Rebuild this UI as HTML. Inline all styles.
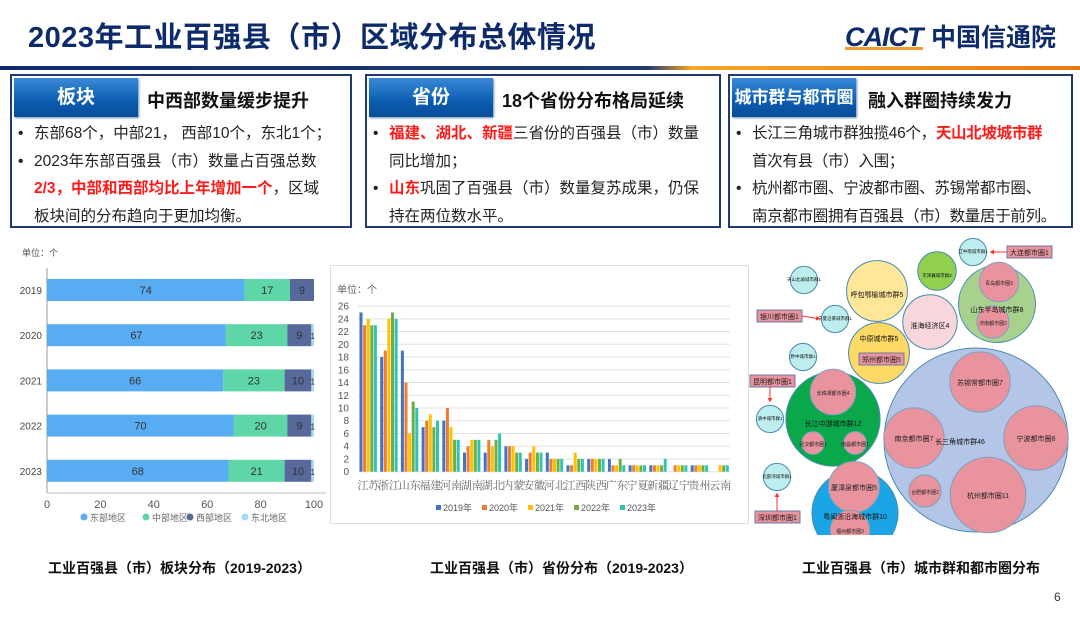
<!DOCTYPE html>
<html><head><meta charset="utf-8">
<style>
*{margin:0;padding:0;box-sizing:border-box}
body{width:1080px;height:622px;background:#fff;position:relative;overflow:hidden;font-family:"Liberation Sans","Noto Sans CJK SC",sans-serif;color:#222}
.abs{position:absolute}
.title{left:28px;top:14px;font-size:29px;font-weight:bold;color:#0d2b6b;letter-spacing:0.5px}
.panel{position:absolute;top:74px;height:154px;border:2px solid #1f3a70;background:#fff}
.tab{position:absolute;top:2px;left:2px;height:39px;color:#fff;font-weight:bold;font-size:19px;text-align:center;line-height:39px;background:linear-gradient(#3a8ad8,#0b5cb0 60%,#0a4d98);box-shadow:1px 1px 2px #6a8ab0}
.sub{position:absolute;top:11px;font-size:18px;font-weight:bold;color:#111}
.body{position:absolute;top:44px;left:3px;right:0;font-size:15.5px;line-height:27.5px;color:#222;white-space:nowrap}
.li{position:relative;padding-left:19px}
.li:before{content:"•";position:absolute;left:3px}
.red{color:#ff1a1a;font-weight:bold}
.cap{position:absolute;top:558px;font-size:14px;font-weight:bold;color:#111}
</style></head><body>
<div class="abs title">2023年工业百强县（市）区域分布总体情况</div>
<div class="abs" style="left:845px;top:18px;height:32px;">
 <span style="font-size:27px;font-weight:900;font-style:italic;color:#0d2b6b;letter-spacing:-1px">CAICT</span>
 <span style="font-size:25px;font-weight:bold;color:#0d2b6b;margin-left:4px">中国信通院</span>
 <div style="position:absolute;left:0;top:29px;width:78px;height:3px;background:#f29b30"></div>
</div>
<div class="abs" style="left:0;top:66px;width:1080px;height:4px;background:linear-gradient(90deg,#0d2b6b 0%,#1f3a70 60%,#f5a623 64%,#e97a10 100%)"></div>

<div class="panel" style="left:10px;width:342px">
 <div class="tab" style="width:124px">板块</div>
 <div class="sub" style="left:135px">中西部数量缓步提升</div>
 <div class="body">
  <div class="li">东部68个，中部21， 西部10个，东北1个；</div>
  <div class="li">2023年东部百强县（市）数量占百强总数<br><span class="red">2/3，中部和西部均比上年增加一个</span>，区域<br>板块间的分布趋向于更加均衡。</div>
 </div>
</div>
<div class="panel" style="left:365px;width:356px">
 <div class="tab" style="width:124px">省份</div>
 <div class="sub" style="left:135px">18个省份分布格局延续</div>
 <div class="body">
  <div class="li"><span class="red">福建、湖北、新疆</span>三省份的百强县（市）数量<br>同比增加；</div>
  <div class="li"><span class="red">山东</span>巩固了百强县（市）数量复苏成果，仍保<br>持在两位数水平。</div>
 </div>
</div>
<div class="panel" style="left:728px;width:345px">
 <div class="tab" style="width:124px;font-size:17px">城市群与都市圈</div>
 <div class="sub" style="left:138px">融入群圈持续发力</div>
 <div class="body" style="letter-spacing:-0.3px">
  <div class="li">长江三角城市群独揽46个，<span class="red">天山北坡城市群</span><br>首次有县（市）入围；</div>
  <div class="li">杭州都市圈、宁波都市圈、苏锡常都市圈、<br>南京都市圈拥有百强县（市）数量居于前列。</div>
 </div>
</div>

<svg id="c1" class="abs" style="left:0;top:240px" width="330" height="290"></svg>
<svg id="c2" class="abs" style="left:330px;top:265px" width="420" height="260"></svg>
<svg id="c3" class="abs" style="left:745px;top:235px" width="335" height="300"></svg>

<div class="cap" style="left:48px">工业百强县（市）板块分布（2019-2023）</div>
<div class="cap" style="left:430px">工业百强县（市）省份分布（2019-2023）</div>
<div class="cap" style="left:802px">工业百强县（市）城市群和都市圈分布</div>
<div class="abs" style="left:1054px;top:590px;font-size:12px;color:#333">6</div>

<script>
const NS="http://www.w3.org/2000/svg";
function mk(p,t,a){const e=document.createElementNS(NS,t);for(const k in a)e.setAttribute(k,a[k]);p.appendChild(e);return e;}

// ---------- Chart 1 ----------
const years1=["2019","2020","2021","2022","2023"];
const east=[74,67,66,70,68];
const central=[17,23,23,20,21];
const west=[9,9,10,9,10];
const northeast=[0,1,1,1,1];
const regionNames=["东部地区","中部地区","西部地区","东北地区"];
const ticks1=[0,20,40,60,80,100];
(function(){
 const s=document.getElementById('c1');
 const colors=["#58acf2","#5fd6a8","#56699a","#a6dbf2"];
 const x=v=>47+v*2.67, y0=50, step=45.2, bh=22;
 let t=mk(s,'text',{x:22,y:16,'font-size':9,fill:'#555'});t.textContent="单位：个";
 mk(s,'line',{x1:47,y1:28,x2:47,y2:253,stroke:'#999'});
 mk(s,'line',{x1:47,y1:253,x2:326,y2:253,stroke:'#bbb'});
 ticks1.forEach(v=>{const l=mk(s,'text',{x:x(v),y:268,'font-size':11,fill:'#555','text-anchor':'middle'});l.textContent=v;});
 const series=[east,central,west,northeast];
 years1.forEach((yr,i)=>{
  const cy=y0+i*step;
  const l=mk(s,'text',{x:42,y:cy+4,'font-size':10,fill:'#444','text-anchor':'end'});l.textContent=yr;
  let acc=0;
  series.forEach((arr,j)=>{
   const v=arr[i]; if(!v) return;
   const r=mk(s,'rect',{x:x(acc),y:cy-bh/2,width:v*2.67,height:bh,fill:colors[j]});
   
   
   const tx=mk(s,'text',{x:x(acc+v/2),y:cy+4,'font-size':j==3?8:11,fill:'#333','text-anchor':'middle'});tx.textContent=v;
   acc+=v;
  });
 });
 const lx=[84,146,190,245];
 regionNames.forEach((n,j)=>{
  mk(s,'circle',{cx:lx[j],cy:277,r:3.5,fill:colors[j]});
  const l=mk(s,'text',{x:lx[j]+6,y:281,'font-size':9,fill:'#666'});l.textContent=n;
 });
})();

// ---------- Chart 2 ----------
const provinces=["江苏","浙江","山东","福建","河南","湖南","湖北","内蒙","安徽","河北","江西","陕西","广东","宁夏","新疆","辽宁","贵州","云南"];
const y2019=[25,18,19,7,8,3,3,4,2,3,1,2,2,1,1,0,1,0];
const y2020=[23,19,14,8,10,4,5,4,3,2,1,2,1,1,1,1,1,0];
const y2021=[24,24,6,9,7,5,4,4,4,2,3,2,1,1,1,1,1,1];
const y2022=[23,25,11,7,5,5,5,3,3,2,2,2,2,1,1,1,1,1];
const y2023=[23,24,10,8,5,5,6,3,3,2,2,2,1,1,2,1,1,1];
const yearLabels=["2019年","2020年","2021年","2022年","2023年"];
const ticks2=[0,2,4,6,8,10,12,14,16,18,20,22,24,26];
(function(){
 const s=document.getElementById('c2');
 const colors=["#4472c4","#ed7d31","#ffc000","#70ad47","#2ec4b4"];
 mk(s,'rect',{x:0.5,y:0.5,width:418,height:258,fill:'#fff',stroke:'#ddd'});
 const y=v=>206.7-v*6.37, x0=28, band=20.7;
 let t=mk(s,'text',{x:7,y:28,'font-size':10,fill:'#666'});t.textContent="单位：个";
 ticks2.forEach(v=>{
  mk(s,'line',{x1:x0,y1:y(v),x2:x0+372,y2:y(v),stroke:'#e2e2e2'});
  const l=mk(s,'text',{x:19,y:y(v)+3.5,'font-size':10,fill:'#555','text-anchor':'end'});l.textContent=v;
 });
 const ser=[y2019,y2020,y2021,y2022,y2023];
 provinces.forEach((p,i)=>{
  const bx=x0+i*band+1.5;
  ser.forEach((arr,j)=>{
   const r=mk(s,'rect',{x:bx+j*3.6,y:y(arr[i]),width:3,height:arr[i]*6.37,fill:colors[j]});
   
   
  });
  const l=mk(s,'text',{x:x0+i*band+band/2,y:224,'font-size':11,fill:'#666','text-anchor':'middle','font-family':'"Noto Serif CJK SC",serif'});l.textContent=p;
 });
 yearLabels.forEach((n,j)=>{
  const lx=106+j*46;
  mk(s,'rect',{x:lx,y:240,width:5,height:5,fill:colors[j]});
  const l=mk(s,'text',{x:lx+7,y:246,'font-size':9,fill:'#555'});l.textContent=n;
 });
})();

// ---------- Chart 3 (bubble layout) ----------
const clusterNames=["长三角城市群46","长江中游城市群12","粤闽浙沿海城市群10","山东半岛城市群8","呼包鄂榆城市群5","中原城市群5","淮海经济区4","京津冀城市群2","辽中南城市群1","天山北坡城市群1","宁夏沿黄城市群1","黔中城市群1","滇中城市群1","北部湾城市群1"];
const clusterValues=[46,12,10,8,5,5,4,2,1,1,1,1,1,1];
const metroNames=["苏锡常都市圈7","南京都市圈7","宁波都市圈8","杭州都市圈11","合肥都市圈2","长株潭都市圈4","武汉都市圈1","南昌都市圈1","厦漳泉都市圈5","福州都市圈3","青岛都市圈3","济南都市圈2"];
const metroValues=[7,7,8,11,2,4,1,1,5,3,3,2];
(function(){
 const s=document.getElementById('c3');
 const ox=745, oy=235;
 const cFill=["#b4c6e7","#0aa84a","#1aa6e6","#a9d18e","#ffe699","#ffd966","#f8d7dc","#92d050","#bdeeed","#bdeeed","#bdeeed","#bdeeed","#bdeeed","#bdeeed"];
 const cPos=[[976,440],[833,419],[855,513],[997,304],[877,291],[879,353],[930,322],[937,271],[973,252],[804,280],[835,319],[803,357],[770,419],[777,477]];
 const cLab=[[960,441],[833,423],[855,516],[997,309],[877,294],[879,338],[930,325],[937,274],[973,250],[804,278],[835,317],[803,355],[770,417],[777,475]];
 const rC=v=>13.6*Math.sqrt(v), rM=v=>11.4*Math.sqrt(v);
 clusterValues.forEach((v,i)=>{
  const r=Math.min(rC(v),92);
  const c=mk(s,'circle',{cx:cPos[i][0]-ox,cy:cPos[i][1]-oy,r:r,fill:cFill[i],stroke:'#4a8ab0','stroke-width':1});
  
  
 });
 const mPos=[[980,382],[914,438],[1036,438],[988,495],[925,491],[833,392],[813,443],[855,443],[854,487],[850,530],[999,282],[993,322]];
 metroValues.forEach((v,i)=>{
  const r=Math.min(rM(v),38);
  const c=mk(s,'circle',{cx:mPos[i][0]-ox,cy:mPos[i][1]-oy,r:r,fill:'#e8939e',stroke:'#7fa0c0','stroke-width':1});
  
  
  const t=mk(s,'text',{x:mPos[i][0]-ox,y:mPos[i][1]-oy+3,'font-size':r>25?7:5,fill:'#222','text-anchor':'middle'});t.textContent=metroNames[i];
 });
 clusterNames.forEach((n,i)=>{
  const r=rC(clusterValues[i]);
  const t=mk(s,'text',{x:cLab[i][0]-ox,y:cLab[i][1]-oy+3,'font-size':r>20?7:4.5,fill:'#111','text-anchor':'middle'});t.textContent=n;
 });
 const boxes=[["大连都市圈1",1007,246],["银川都市圈1",757,310],["昆明都市圈1",750,375],["深圳都市圈1",755,511],["郑州都市圈5",859,353]];
 boxes.forEach(b=>{
  mk(s,'rect',{x:b[1]-ox,y:b[2]-oy,width:45,height:12,fill:'#e8939e',stroke:'#6a7aa8'});
  const t=mk(s,'text',{x:b[1]-ox+22.5,y:b[2]-oy+9,'font-size':7,fill:'#222','text-anchor':'middle'});t.textContent=b[0];
 });
 const ar=[[1007,252,990,252],[802,316,820,319],[770,386,770,402],[777,511,777,493]];
 ar.forEach(a=>{
  mk(s,'line',{x1:a[0]-ox,y1:a[1]-oy,x2:a[2]-ox,y2:a[3]-oy,stroke:'#ff3030','stroke-width':1});
  const dx=a[2]-a[0],dy=a[3]-a[1],L=Math.hypot(dx,dy),ux=dx/L,uy=dy/L,px=a[2]-ox,py=a[3]-oy;
  mk(s,'polygon',{points:`${px},${py} ${px-4*ux-2.5*uy},${py-4*uy+2.5*ux} ${px-4*ux+2.5*uy},${py-4*uy-2.5*ux}`,fill:'#ff3030'});
 });
})();
</script>
</body></html>
